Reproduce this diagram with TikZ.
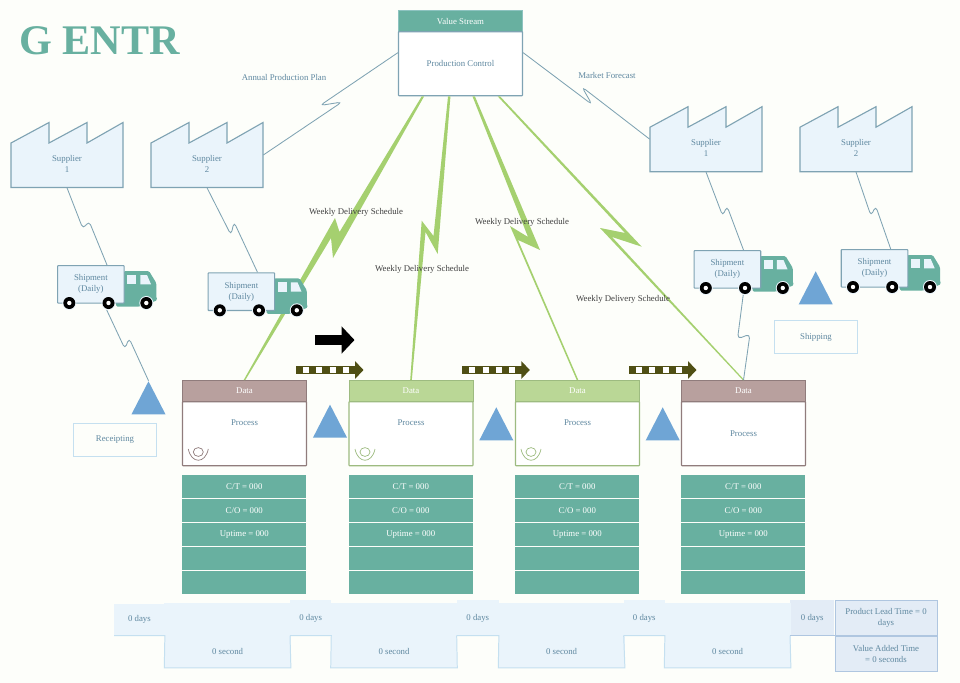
\documentclass[tikz,border=0pt]{standalone}
\usepackage{fontspec}
\setmainfont{Liberation Serif}
\usetikzlibrary{arrows.meta, calc, matrix, shapes.geometric}

\definecolor{paper}{HTML}{FDFEFA}
\definecolor{streamteal}{HTML}{68B0A0}
\definecolor{steeltext}{HTML}{5F88A0}
\definecolor{steeledge}{HTML}{7FA3B3}
\definecolor{palefill}{HTML}{EAF4FB}
\definecolor{paleedge}{HTML}{C5E0F0}
\definecolor{totalfill}{HTML}{E3ECF6}
\definecolor{totaledge}{HTML}{AFC6E0}
\definecolor{invblue}{HTML}{6FA5D5}
\definecolor{boltgreen}{HTML}{A5D06F}
\definecolor{pushdark}{HTML}{4F4F14}
\definecolor{mauvefill}{HTML}{B8A09E}
\definecolor{mauveedge}{HTML}{907C7C}
\definecolor{greenfill}{HTML}{BAD796}
\definecolor{greenedge}{HTML}{9DBB80}

\tikzset{
	small/.style={font=\fontsize{6.25}{7.8}\selectfont, align=center, inner sep=0pt},
	steel/.style={small, text=steeltext},
	headbox/.style={small, text=white, minimum width=3.1cm, minimum height=.53cm, line width=.7pt},
	bodybox/.style={fill=white, minimum width=3.1cm, minimum height=1.6cm, line width=.8pt, rounded corners=.4pt, yshift=.75pt},
	textbox/.style={steel, draw=paleedge, fill=paper, line width=.7pt, minimum width=2.08cm, minimum height=.84cm},
	inventory/.style={isosceles triangle, isosceles triangle apex angle=54.5, shape border rotate=90, fill=invblue, inner sep=0pt, minimum height=.825cm, minimum width=.85cm, isosceles triangle stretches, anchor=apex},
	infoline/.style={draw=steeledge, line width=.6pt, rounded corners=3pt},
	schedule/.style={fill=boltgreen},
	ladderfill/.style={fill=palefill},
	totalbox/.style={steel, fill=totalfill, draw=totaledge, line width=.6pt, minimum width=2.55cm, minimum height=.875cm},
	pics/factory/.style={code={
		\draw[fill=palefill, draw=steeledge, line width=.8pt] (0,20.5) -- (38,0) -- (38,20.5) -- (76,0) -- (76,20.5) -- (112,0) -- (112,65) -- (0,65) -- cycle;
		\node[minimum width=2.8cm, minimum height=1.625cm, inner sep=0pt] (-body) at (56,32.5) {};
		\node[steel] (-name) at (56,41) {#1};
	}},
	pics/truck/.style={code={
		\fill[streamteal, rounded corners=1pt] (59,33) -- (66.6,33) -- (66.6,6) -- (92,6) -- (99.3,18) -- (99.3,33) -- (100.5,35) -- (96,37) -- (83,41.5) -- (59,41.5) -- cycle;
		\fill[palefill] (70,10) rectangle (79.3,19.3);
		\fill[palefill] (83.3,10) -- (90,10) -- (94,19.3) -- (83.3,19.3) -- cycle;
		\node[steel, fill=palefill, draw=steeledge, line width=.8pt, rounded corners=.5pt, minimum width=1.665cm, minimum height=.94cm, anchor=north west] (-box) at (0,0) {Shipment\\(Daily)};
		\foreach \w in {12.3, 51.5, 89.3} {
			\fill[palefill] (\w,38) circle (.175cm);
			\fill[black] (\w,38) circle (.15cm);
			\fill[white] (\w,38) circle (.055cm);
		}
		\coordinate (-dock) at (50,0);
		\coordinate (-rear) at (49.7,45);
	}}
}

% information line with a small hook half way
\newcommand{\infolink}[4]{
	\coordinate (hookA) at #3;
	\coordinate (hookB) at #4;
	\draw[infoline] (#1) -- (hookA) -- (hookB) -- (#2);
}
% weekly schedule bolt: from, to, and the four corners of the kink
\newcommand{\schedulebolt}[6]{
	\fill[schedule] ($(#1)+(1.2,0)$) -- #5 -- #6 -- ($(#2)+(.8,0)$) -- ($(#2)+(-.8,0)$) -- #3 -- #4 -- ($(#1)+(-1.2,0)$) -- cycle;
}

\begin{document}
\begin{tikzpicture}[x=.025cm, y=-.025cm]
	\fill[paper] (0,0) rectangle (960,683);
	\useasboundingbox (0,0) rectangle (960,683);

	\node[font=\fontsize{30}{36}\selectfont\bfseries, text=streamteal, anchor=west, inner sep=0pt] (title) at (19,41) {G ENTR};

	% production control
	\node[headbox, fill=streamteal, draw=streamteal!60!paleedge, anchor=north west] (vs) at (398,10) {Value Stream};
	\node[bodybox, steel, draw=steeledge, anchor=north] (pc) at (vs.south) {Production Control};
	\coordinate (pcleft) at ($(pc.north west)!.33!(pc.south west)$);
	\coordinate (pcright) at ($(pc.north east)!.33!(pc.south east)$);

	% process boxes with their data tables
	\foreach \i/\x/\hue/\edge/\drop in {1/182/mauvefill/mauveedge/22, 2/348.5/greenfill/greenedge/22, 3/515/greenfill/greenedge/22, 4/681/mauvefill/mauveedge/33} {
		\node[headbox, fill=\hue, draw=\edge, anchor=north west] (data\i) at (\x,380) {Data};
		\node[bodybox, draw=\edge, anchor=north] (proc\i) at (data\i.south) {};
		\node[steel] (ptext\i) at ($(proc\i.north)+(0,\drop)$) {Process};
		\matrix(metric\i)[matrix of nodes, nodes in empty cells, anchor=north west, inner sep=0pt, row sep=.55pt,
		nodes={fill=streamteal, text=white, small, minimum width=3.1cm, minimum height=.58cm}] at (\x,475)
		{
			C/T = 000\\
			C/O = 000\\
			Uptime = 000\\
			\\
			\\
		};
	}
	\foreach \i/\x/\edge in {1/198.3/mauveedge, 2/365/greenedge, 3/531/greenedge} {
		\draw[\edge, line width=.5pt] (\x,452) ellipse (.125cm and .11cm);
		\draw[\edge, line width=.5pt] (\x-10,449) .. controls (\x-7,464) and (\x+7,464) .. (\x+10,449);
	}

	% inventory triangles
	\foreach \i/\x/\y in {1/148.5/380.7, 2/330/404, 3/496.3/406.7, 4/662.7/406.7, 5/815.7/270.7} {
		\node[inventory] (inv\i) at (\x,\y) {};
	}
	\node[textbox] (receipt) at (115,440) {Receipting};
	\node[textbox] (shipping) at (816,337) {Shipping};

	% schedules
	\coordinate (pcA) at ($(pc.south west)!.2!(pc.south east)$);
	\coordinate (pcB) at ($(pc.south west)!.41!(pc.south east)$);
	\coordinate (pcC) at ($(pc.south west)!.605!(pc.south east)$);
	\coordinate (pcD) at ($(pc.south west)!.806!(pc.south east)$);
	\schedulebolt{pcA}{data1.north}{(335,218)}{(339.5,232)}{(333,258)}{(331,238)}
	\schedulebolt{pcB}{data2.north}{(421.7,220.7)}{(433.5,236)}{(437.7,254)}{(425.5,232)}
	\schedulebolt{pcC}{data3.north}{(510,226)}{(528,237)}{(540,250)}{(518,240)}
	\schedulebolt{pcD}{data4.north}{(600,228)}{(625,233)}{(641.7,246.7)}{(612,237)}

	% suppliers and trucks
	\pic (supA) at (11,122.5) {factory={Supplier\\1}};
	\pic (supB) at (151,122.5) {factory={Supplier\\2}};
	\pic (supC) at (650,106.7) {factory={Supplier\\1}};
	\pic (supD) at (800,106.7) {factory={Supplier\\2}};
	\pic (truckA) at (57,265) {truck};
	\pic (truckB) at (207.5,272.3) {truck};
	\pic (truckC) at (693.5,250) {truck};
	\pic (truckD) at (840.7,249) {truck};

	\infolink{supA-body.south}{truckA-dock}{(83,229)}{(89,221)}
	\infolink{supB-body.south}{truckB-dock}{(231,235)}{(234,222)}
	\infolink{supC-body.south}{truckC-dock}{(722.7,216)}{(727,206)}
	\infolink{supD-body.south}{truckD-dock}{(871,216)}{(875.7,206)}
	\infolink{truckA-rear}{inv1.apex}{(125,349)}{(129,338)}
	\infolink{truckC-rear}{data4.north}{(737.5,339)}{(750,334)}
	\infolink{pcleft}{supB-body.east}{(320,105.5)}{(342,102)}
	\infolink{pcright}{supC-body.west}{(592,104.5)}{(582,87)}

	% push arrows
	\foreach \i/\x in {1/296, 2/462.3, 3/629} {
		\coordinate (pushS\i) at (\x,370);
		\coordinate (pushE\i) at (\x+67.5,370);
		\coordinate (dashS\i) at (\x+7,370);
		\coordinate (dashE\i) at (\x+53,370);
		\draw[pushdark, line width=.21cm, -{Triangle[length=.21cm, width=.43cm]}] (pushS\i) -- (pushE\i);
		\draw[white, line width=.15cm, dash pattern=on 4.25pt off 5.19pt] (dashS\i) -- (dashE\i);
	}
	\coordinate (flowS) at (315,340);
	\coordinate (flowE) at (354.5,340);
	\draw[black, line width=.235cm, -{Triangle[length=.32cm, width=.66cm]}] (flowS) -- (flowE);

	% labels
	\node[steel] (annual) at (284,77) {Annual Production Plan};
	\node[steel] (market) at (607,75) {Market Forecast};
	\foreach \i/\x/\y in {1/356/212, 2/422/269, 3/522/222, 4/623/299} {
		\node[small, text=black!75] (sched\i) at (\x,\y) {Weekly Delivery Schedule};
	}

	% timeline
	\foreach \i/\x/\w/\t/\c in {1/114/50.3/604/palefill, 2/290/40.7/600.7/palefill, 3/456.7/41.6/600.7/palefill, 4/623.7/40.6/600.7/palefill, 5/790/44/600.7/totalfill} {
		\node[steel, fill=\c, anchor=south west, minimum width=\w*.025cm, minimum height=(635.7-\t)*.025cm] (day\i) at (\x,635.7) {0 days};
	}
	\foreach \i/\x in {1/164.3, 2/330.7, 3/498.3, 4/664.3} {
		\node[steel, ladderfill, anchor=north west, minimum width=3.15cm, minimum height=.79cm] (sec\i) at (\x,635.7) {0 second};
		\fill[ladderfill] (sec\i.north west) rectangle (sec\i.north east |- day1.north);
	}
	\node[totalbox, anchor=south west] (lead) at (day5.south east) {Product Lead Time = 0\\days};
	\node[totalbox, anchor=north] (vat) at (lead.south) {Value Added Time\\= 0 seconds};
	\foreach \i/\j in {1/2, 2/3, 3/4, 4/5} {
		\draw[draw=paleedge, line width=.7pt] (day\i.south west) -- (day\i.south east) -- (sec\i.south west) -- (sec\i.south east) -- (day\j.south west);
	}
	\draw[draw=totaledge, line width=.7pt] (day5.south west) -- (lead.south west);
\end{tikzpicture}
\end{document}
